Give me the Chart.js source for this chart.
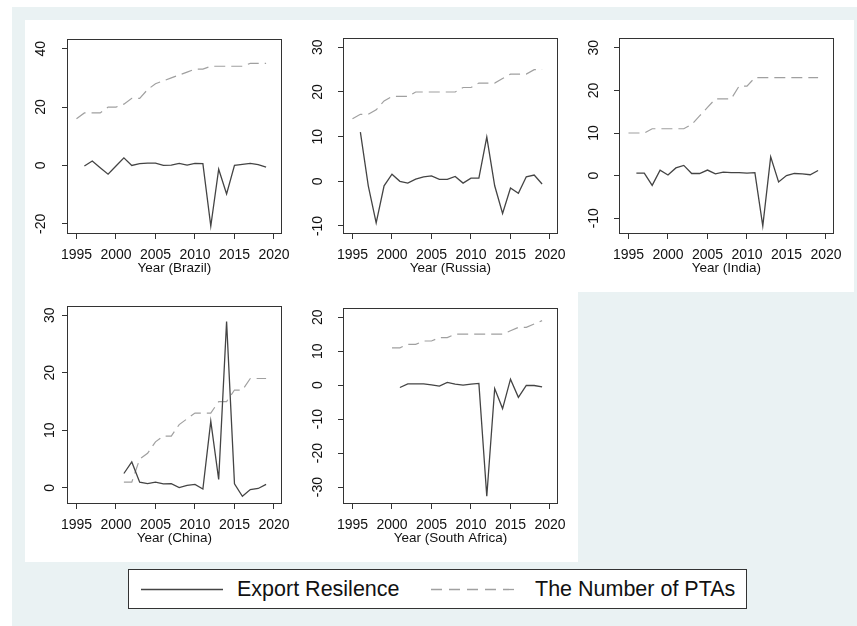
<!DOCTYPE html>
<html>
<head>
<meta charset="utf-8">
<script src="https://cdn.jsdelivr.net/npm/chart.js@4/dist/chart.umd.min.js"></script>
<style>
  html, body { margin: 0; padding: 0; background: #ffffff; }
  #page { position: relative; width: 857px; height: 626px; overflow: hidden; font-family: 'Liberation Sans', Arial, sans-serif; }
  #outer { position: absolute; left: 12px; top: 7px; width: 845px; height: 619px; background: #eaf2f3; }
  .white { position: absolute; background: #ffffff; }
  canvas { position: absolute; }
  #legend { position: absolute; left: 128px; top: 569px; width: 617px; height: 38px; border: 1px solid #333; background: #fff; }
  #legend svg { position: absolute; left: 0; top: 0; }
  .ltext { position: absolute; top: 0; height: 38px; line-height: 38px; font-size: 21.5px; color: #111; white-space: nowrap; }
</style>
</head>
<body>
<div id="page">
  <div id="outer"></div>
  <div class="white" style="left:25px;top:20px;width:829px;height:272px"></div>
  <div class="white" style="left:25px;top:292px;width:553px;height:270px"></div>
  <canvas id="brazil" width="276" height="270" style="left:22px;top:20px"></canvas>
  <canvas id="russia" width="276" height="270" style="left:298px;top:20px"></canvas>
  <canvas id="india" width="276" height="270" style="left:574px;top:20px"></canvas>
  <canvas id="china" width="276" height="270" style="left:22px;top:290px"></canvas>
  <canvas id="southAfrica" width="276" height="270" style="left:298px;top:290px"></canvas>
  <div id="legend">
    <svg width="617" height="38">
      <line x1="12" y1="19.5" x2="94" y2="19.5" stroke="#444" stroke-width="1.3"/>
      <line x1="302" y1="19.5" x2="388" y2="19.5" stroke="#a0a0a0" stroke-width="1.3" stroke-dasharray="11 7"/>
    </svg>
    <div class="ltext" style="left:108px">Export Resilence</div>
    <div class="ltext" style="left:406px">The Number of PTAs</div>
  </div>
</div>
<script>
// Years on the horizontal axis
const years = [1995, 1996, 1997, 1998, 1999, 2000, 2001, 2002, 2003, 2004, 2005, 2006, 2007,
               2008, 2009, 2010, 2011, 2012, 2013, 2014, 2015, 2016, 2017, 2018, 2019];
const xTicks = [1995, 2000, 2005, 2010, 2015, 2020];

// Export resilience by year (null = no observation)
const brazilER = [null, -0.2, 1.5, -0.8, -3.0, -0.2, 2.6, 0.0, 0.6, 0.8, 0.8, 0.0, 0.1,
                  0.7, 0.1, 0.7, 0.6, -20.8, -1.3, -9.8, 0.0, 0.4, 0.7, 0.3, -0.6];
const russiaER = [null, 11.0, -1.0, -9.3, -1.0, 1.6, 0.0, -0.4, 0.5, 1.0, 1.2, 0.45, 0.45,
                  1.1, -0.4, 0.7, 0.7, 9.9, -1.0, -7.2, -1.5, -2.7, 1.0, 1.4, -0.6];
const indiaER = [null, 0.6, 0.6, -2.3, 1.3, 0.15, 1.8, 2.4, 0.5, 0.5, 1.3, 0.4, 0.8,
                 0.7, 0.7, 0.6, 0.7, -11.8, 4.4, -1.5, 0.0, 0.5, 0.4, 0.2, 1.2];
const chinaER = [null, null, null, null, null, null, 2.5, 4.5, 1.0, 0.75, 1.0, 0.7, 0.75,
                 0.05, 0.45, 0.6, -0.2, 11.6, 1.45, 28.9, 0.7, -1.45, -0.3, -0.1, 0.6];
const southAfricaER = [null, null, null, null, null, null, -0.7, 0.4, 0.4, 0.4, 0.1, -0.3, 0.8,
                       0.3, 0.0, 0.3, 0.5, -32.7, -1.0, -6.9, 1.75, -3.6, -0.1, -0.1, -0.5];

// Number of preferential trade agreements by year
const brazilPTA = [16, 18, 18, 18, 20, 20, 21, 23, 23, 26, 28, 29, 30,
                   31, 32, 33, 33, 34, 34, 34, 34, 34, 35, 35, 35];
const russiaPTA = [14, 15, 15, 16, 18, 19, 19, 19, 20, 20, 20, 20, 20,
                   20, 21, 21, 22, 22, 22, 23, 24, 24, 24, 25, 25];
const indiaPTA = [10, 10, 10, 11, 11, 11, 11, 11, 12, 14, 16, 18, 18,
                  18, 21, 21, 23, 23, 23, 23, 23, 23, 23, 23, 23];
const chinaPTA = [null, null, null, null, null, null, 1, 1, 5, 6, 8, 9, 9,
                  11, 12, 13, 13, 13, 15, 15, 17, 17, 19, 19, 19];
const southAfricaPTA = [null, null, null, null, null, 11, 11, 12, 12, 13, 13, 14, 14,
                        15, 15, 15, 15, 15, 15, 15, 16, 17, 17, 18, 19];

// Vertical tick labels for each panel
const brazilTicks = [-20, 0, 20, 40];
const russiaTicks = [-10, 0, 10, 20, 30];
const indiaTicks = [-10, 0, 10, 20, 30];
const chinaTicks = [0, 10, 20, 30];
const southAfricaTicks = [-30, -20, -10, 0, 10, 20];

const FONT = "'Liberation Sans', Arial, sans-serif";
Chart.defaults.font.family = FONT;
Chart.defaults.color = '#111';

// box around the plot region
const frame = {
  id: 'frame',
  afterDatasetsDraw(chart) {
    const a = chart.chartArea, ctx = chart.ctx;
    ctx.save();
    ctx.strokeStyle = '#333';
    ctx.lineWidth = 1;
    ctx.strokeRect(Math.round(a.left) + 0.5, Math.round(a.top) + 0.5,
                   Math.round(a.right - a.left) - 1, Math.round(a.bottom - a.top) - 1);
    ctx.restore();
  }
};

function points(vals) {
  return years.map((yr, i) => ({ x: yr, y: vals[i] }));
}

function panel(id, label, er, pta, yTicks, yMin, yMax, labelPad) {
  new Chart(document.getElementById(id), {
    type: 'line',
    data: {
      datasets: [
        { label: 'Export Resilence', data: points(er), borderColor: '#444444',
          borderWidth: 1.3, pointRadius: 0, tension: 0, fill: false },
        { label: 'The Number of PTAs', data: points(pta), borderColor: '#a0a0a0',
          borderWidth: 1.2, borderDash: [11, 6], pointRadius: 0, tension: 0, fill: false }
      ]
    },
    options: {
      responsive: false,
      animation: false,
      devicePixelRatio: 1,
      events: [],
      layout: { padding: { top: 16, right: 12, left: 0, bottom: 0 } },
      plugins: { legend: { display: false }, tooltip: { enabled: false } },
      scales: {
        x: {
          type: 'linear', min: 1993.8, max: 2021.0,
          afterBuildTicks: s => { s.ticks = xTicks.map(v => ({ value: v })); },
          afterFit: s => { s.height = 56; },
          grid: { display: true, drawOnChartArea: false, drawTicks: true, tickLength: 5, color: '#333' },
          border: { display: false },
          ticks: { autoSkip: false, maxRotation: 0, minRotation: 0, padding: 8,
                   font: { size: 14 }, color: '#111', callback: v => String(v) },
          title: { display: true, text: label, font: { size: 13.5 }, color: '#111',
                   padding: { top: 0, bottom: 13.3 } }
        },
        y: {
          type: 'linear', min: yMin, max: yMax,
          afterBuildTicks: s => { s.ticks = yTicks.map(v => ({ value: v })); },
          afterFit: s => { s.width = 45; },
          grid: { display: true, drawOnChartArea: false, drawTicks: true, tickLength: 5, color: '#333' },
          border: { display: false },
          ticks: { autoSkip: false, minRotation: 90, maxRotation: 90, crossAlign: 'center',
                   padding: labelPad, font: { size: 14 }, color: '#111', callback: v => String(v) }
        }
      }
    },
    plugins: [frame]
  });
}

panel('brazil', 'Year (Brazil)', brazilER, brazilPTA, brazilTicks, -23.5, 43.2, 11);
panel('russia', 'Year (Russia)', russiaER, russiaPTA, russiaTicks, -11.8, 32.0, 10);
panel('india', 'Year (India)', indiaER, indiaPTA, indiaTicks, -13.7, 32.2, 10);
panel('china', 'Year (China)', chinaER, chinaPTA, chinaTicks, -2.8, 31.6, 4);
panel('southAfrica', 'Year (South Africa)', southAfricaER, southAfricaPTA, southAfricaTicks, -35.0, 22.6, 10);
</script>
</body>
</html>
